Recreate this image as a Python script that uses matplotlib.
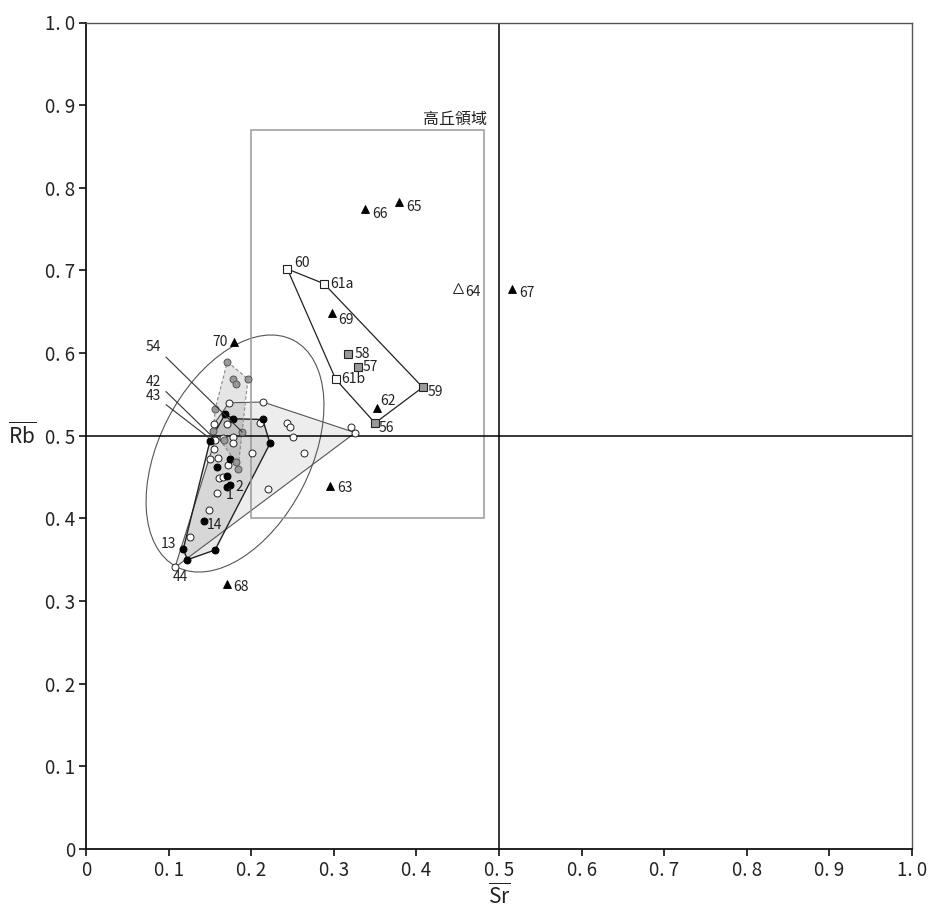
import matplotlib
matplotlib.use("Agg")
import matplotlib.pyplot as plt
from matplotlib.patches import Polygon, Ellipse, Rectangle

plt.rcParams['font.family'] = ['Noto Sans CJK JP', 'DejaVu Sans']
plt.rcParams['mathtext.fontset'] = 'custom'
plt.rcParams['mathtext.rm'] = 'Noto Sans CJK JP'
plt.rcParams['mathtext.it'] = 'Noto Sans CJK JP'

# ---------------- data ----------------
# open circles
white_x = [0.1731, 0.2143, 0.2429, 0.2470, 0.2510, 0.2107, 0.1711, 0.1550, 0.1562,
           0.1663, 0.1776, 0.1783, 0.2010, 0.1553, 0.1501, 0.1602, 0.1723, 0.1610,
           0.1655, 0.1590, 0.1493, 0.2207, 0.1259, 0.1077, 0.2643, 0.3205, 0.3260]
white_y = [0.5399, 0.5408, 0.5157, 0.5108, 0.4979, 0.5149, 0.5142, 0.5142, 0.4949,
           0.4967, 0.4979, 0.4915, 0.4797, 0.4834, 0.4713, 0.4734, 0.4646, 0.4483,
           0.4503, 0.4307, 0.4102, 0.4350, 0.3781, 0.3406, 0.4794, 0.5102, 0.5037]
# filled black circles
black_x = [0.1683, 0.1783, 0.2139, 0.2228, 0.1501, 0.1743, 0.1582, 0.1711, 0.1703,
           0.1743, 0.1429, 0.1178, 0.1227, 0.1562]
black_y = [0.5259, 0.5205, 0.5197, 0.4907, 0.4936, 0.4718, 0.4624, 0.4519, 0.4383,
           0.4406, 0.3969, 0.3630, 0.3500, 0.3618]
# gray circles
gray_x = [0.1711, 0.1776, 0.1816, 0.1961, 0.1565, 0.1541, 0.1892, 0.1674, 0.1812, 0.1840]
gray_y = [0.5896, 0.5683, 0.5626, 0.5687, 0.5327, 0.5061, 0.5045, 0.4949, 0.4685, 0.4596]

# squares
sq_names = ['60', '61a', '61b', '56', '57', '58', '59']
sq_x = [0.2437, 0.2881, 0.3023, 0.3499, 0.3289, 0.3176, 0.4076]
sq_y = [0.7018, 0.6840, 0.5683, 0.5154, 0.5835, 0.5989, 0.5586]
sq_gray = [False, False, False, True, True, True, True]

# triangles
tri_names = ['62', '63', '65', '66', '67', '68', '69', '70']
tri_x = [0.3523, 0.2954, 0.3793, 0.3378, 0.5157, 0.1703, 0.2982, 0.1796]
tri_y = [0.5332, 0.4392, 0.7832, 0.7740, 0.6772, 0.3206, 0.6481, 0.6134]
otri_names = ['64']
otri_x = [0.4508]
otri_y = [0.6791]

# labelled circles: (name, group, index)
circle_labels = [('1', 'black', 8), ('2', 'black', 9), ('14', 'black', 10),
                 ('13', 'black', 11), ('44', 'white', 23)]

# outlines of groups (indices into the arrays above)
white_outline = [23, 8, 7, 0, 1, 26]
black_outline = [0, 1, 2, 3, 13, 12, 11, 4]
gray_outline = [0, 3, 9, 8, 5, 4]
square_outline = ['60', '61a', '59', '56', '61b']

# leader-labelled samples
leader_names = ['54', '42', '43']
leader_text_x = [0.0817, 0.0817, 0.0817]
leader_text_y = [0.6068, 0.5650, 0.5481]
leader_end_x = [0.1892, 0.1522, 0.1481]
leader_end_y = [0.5045, 0.4997, 0.4981]

ticks = [0.0, 0.1, 0.2, 0.3, 0.4, 0.5, 0.6, 0.7, 0.8, 0.9, 1.0]
tick_labels = ['0', '0. 1', '0. 2', '0. 3', '0. 4', '0. 5', '0. 6', '0. 7', '0. 8', '0. 9', '1. 0']

# high-hill region box
region_x0, region_x1 = 0.20, 0.482
region_y0, region_y1 = 0.40, 0.87
region_name = '高丘領域'

# ---------------- figure ----------------
fig = plt.figure(figsize=(9.31, 9.07), dpi=100)
ax = fig.add_axes([86 / 931, 58 / 907, 826 / 931, 826.5 / 907])
ax.set_xlim(0, 1)
ax.set_ylim(0, 1)

# group polygons
ax.add_patch(Polygon([(white_x[i], white_y[i]) for i in white_outline], closed=True,
                     facecolor='black', alpha=0.07, edgecolor='none', zorder=1))
ax.add_patch(Polygon([(white_x[i], white_y[i]) for i in white_outline], closed=True,
                     fill=False, edgecolor='#555555', lw=0.8, zorder=1.5))
ax.add_patch(Polygon([(black_x[i], black_y[i]) for i in black_outline], closed=True,
                     facecolor='black', alpha=0.09, edgecolor='none', zorder=1.1))
ax.add_patch(Polygon([(black_x[i], black_y[i]) for i in black_outline], closed=True,
                     fill=False, edgecolor='#222222', lw=1.0, zorder=1.6))
ax.add_patch(Polygon([(gray_x[i], gray_y[i]) for i in gray_outline], closed=True,
                     facecolor='black', alpha=0.10, edgecolor='none', zorder=1.2))
ax.add_patch(Polygon([(gray_x[i], gray_y[i]) for i in gray_outline], closed=True,
                     fill=False, edgecolor='#888888', lw=0.8, ls=(0, (3, 2)), zorder=1.7))
sq_idx = [sq_names.index(n) for n in square_outline]
ax.add_patch(Polygon([(sq_x[i], sq_y[i]) for i in sq_idx], closed=True,
                     fill=False, edgecolor='#222222', lw=0.9, zorder=1.6))

# ellipse around the clustered samples
ax.add_patch(Ellipse((0.1804, 0.4785), 0.3085, 0.183, angle=62.8,
                     fill=False, edgecolor='#555555', lw=0.8, zorder=1.8))

# region box
ax.add_patch(Rectangle((region_x0, region_y0), region_x1 - region_x0, region_y1 - region_y0,
                       fill=False, edgecolor='#999999', lw=1.1, zorder=1.8))
ax.text(0.4855, 0.872, region_name, fontsize=11.5,
        ha='right', va='bottom', color='#222222')

# reference lines
ax.axvline(0.5, color='black', lw=1.1, zorder=2)
ax.axhline(0.5, color='black', lw=1.1, zorder=2)

# markers
ax.plot(white_x, white_y, 'o', ms=5, mfc='white', mec='#222222', mew=0.7, zorder=3)
ax.plot(black_x, black_y, 'o', ms=5, mfc='black', mec='black', mew=0.7, zorder=3)
ax.plot(gray_x, gray_y, 'o', ms=5, mfc='#999999', mec='#555555', mew=0.7, zorder=3)
for x, y, g in zip(sq_x, sq_y, sq_gray):
    ax.plot(x, y, 's', ms=5.5, mfc='#999999' if g else 'white', mec='#222222', mew=0.8, zorder=3)
ax.plot(tri_x, tri_y, '^', ms=6, mfc='black', mec='black', mew=0.6, zorder=3)
ax.plot(otri_x, otri_y, '^', ms=6.5, mfc='white', mec='#222222', mew=0.7, zorder=3)

# point labels (offsets in pixels: dx right, dy up)
px = 0.72
label_style = {
    '60': (7, 6, 'left'), '61a': (6, 0, 'left'), '61b': (6, 0, 'left'),
    '59': (5, -5, 'left'), '56': (4, -5, 'left'), '58': (6, 0, 'left'),
    '57': (5, 0, 'left'), '62': (3, 7, 'left'), '69': (6, -7, 'left'),
    '64': (7, -4, 'left'), '66': (7, -5, 'left'), '65': (7, -5, 'left'),
    '67': (7, -4, 'left'), '63': (7, -2, 'left'), '68': (7, -3, 'left'),
    '70': (-7, 0, 'right'), '1': (2.5, -8.5, 'center'), '2': (5, -2, 'left'),
    '14': (3, -4, 'left'), '13': (-7, 5, 'right'), '44': (5.5, -10, 'center'),
}
fs_pt = 10


def put_label(name, x, y):
    dx, dy, ha = label_style[name]
    ax.annotate(name, (x, y), xytext=(dx * px, dy * px), textcoords='offset points',
                ha=ha, va='center', fontsize=fs_pt, color='#222222', zorder=4)


for n, x, y in zip(sq_names, sq_x, sq_y):
    put_label(n, x, y)
for n, x, y in zip(tri_names, tri_x, tri_y):
    put_label(n, x, y)
for n, x, y in zip(otri_names, otri_x, otri_y):
    put_label(n, x, y)
groups = {'white': (white_x, white_y), 'black': (black_x, black_y)}
for n, g, i in circle_labels:
    gx, gy = groups[g]
    put_label(n, gx[i], gy[i])

for n, tx, ty, ex, ey in zip(leader_names, leader_text_x, leader_text_y, leader_end_x, leader_end_y):
    ax.annotate(n, (ex, ey), xytext=(tx, ty), ha='center', va='center', fontsize=fs_pt,
                color='#222222',
                arrowprops=dict(arrowstyle='-', color='#333333', lw=0.8,
                                relpos=(1.0, 0.15), shrinkA=2, shrinkB=0), zorder=4)

# axes styling
ax.set_xticks(ticks)
ax.set_xticklabels(tick_labels)
ax.set_yticks(ticks)
ax.set_yticklabels(tick_labels)
ax.tick_params(direction='out', length=5, width=1.3, labelsize=13.5, colors='#222222', pad=3)
for s in ['left', 'bottom']:
    ax.spines[s].set_color('#111111')
    ax.spines[s].set_linewidth(1.3)
for s in ['top', 'right']:
    ax.spines[s].set_color('#555555')
    ax.spines[s].set_linewidth(1.0)

ax.text(0.5, -0.0565, r'$\overline{\mathrm{Sr}}$', transform=ax.transAxes, fontsize=15,
        ha='center', va='center', color='#222222')
ax.text(-0.077, 0.5, r'$\overline{\mathrm{Rb}}$', transform=ax.transAxes, fontsize=15,
        ha='center', va='center', color='#222222')

fig.savefig('out.png', dpi=100)
